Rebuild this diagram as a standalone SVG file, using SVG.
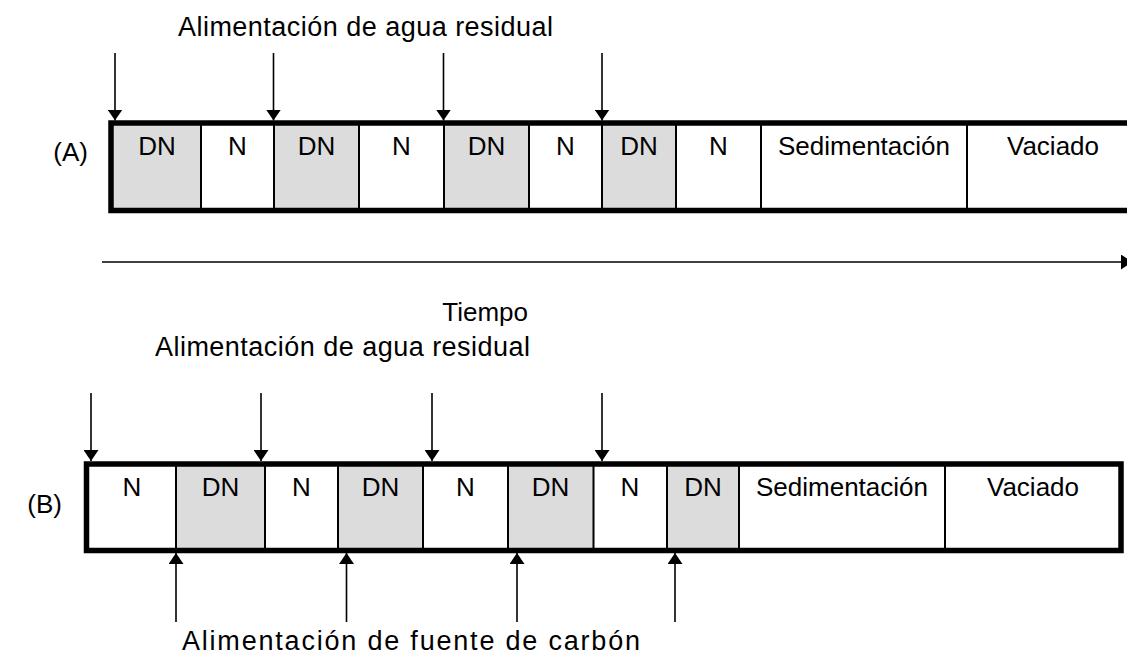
<svg xmlns="http://www.w3.org/2000/svg" width="1127" height="659" viewBox="0 0 1127 659">
<style>
text{font-family:"Liberation Sans",Arial,sans-serif;font-size:26px;fill:#000}
.c{text-anchor:middle}
.t{font-size:27px}
.frame{fill:none;stroke:#000;stroke-width:5.5}
.div{stroke:#000;stroke-width:2}
.g{fill:#dcdcdc}
.ln{stroke:#000;stroke-width:1.6;fill:none}
</style>
<defs>
<marker id="ah" markerWidth="11" markerHeight="15" refX="11" refY="7.5" orient="auto" markerUnits="userSpaceOnUse">
<path d="M0,0 L11,7.5 L0,15 Z" fill="#000"/>
</marker>
</defs>
<rect width="1127" height="659" fill="#fff"/>

<g id="labels">
<text class="t" x="178" y="36" textLength="375" lengthAdjust="spacing">Alimentación de agua residual</text>
<text x="88" y="161" text-anchor="end">(A)</text>
<text x="528" y="321" text-anchor="end">Tiempo</text>
<text class="t" x="155" y="356" textLength="375" lengthAdjust="spacing">Alimentación de agua residual</text>
<text x="62" y="513" text-anchor="end">(B)</text>
<text class="t" x="182" y="650" textLength="458" lengthAdjust="spacing">Alimentación de fuente de carbón</text>
</g>

<g id="boxA">
<rect class="g" x="113" y="125" width="88" height="84"/>
<rect class="g" x="274" y="125" width="85" height="84"/>
<rect class="g" x="444" y="125" width="85" height="84"/>
<rect class="g" x="602" y="125" width="74" height="84"/>
<g class="div">
<line x1="201" y1="123" x2="201" y2="210"/>
<line x1="274" y1="123" x2="274" y2="210"/>
<line x1="359" y1="123" x2="359" y2="210"/>
<line x1="444" y1="123" x2="444" y2="210"/>
<line x1="529" y1="123" x2="529" y2="210"/>
<line x1="602" y1="123" x2="602" y2="210"/>
<line x1="676" y1="123" x2="676" y2="210"/>
<line x1="761" y1="123" x2="761" y2="210"/>
<line x1="967" y1="123" x2="967" y2="210"/>
</g>
<path class="frame" d="M1140,123 H111 V210.5 H1140"/>
<text class="c" x="157" y="155">DN</text>
<text class="c" x="237.5" y="155">N</text>
<text class="c" x="316.5" y="155">DN</text>
<text class="c" x="401.5" y="155">N</text>
<text class="c" x="486.5" y="155">DN</text>
<text class="c" x="565.5" y="155">N</text>
<text class="c" x="639" y="155">DN</text>
<text class="c" x="718.5" y="155">N</text>
<text class="c" x="864" y="155">Sedimentación</text>
<text class="c" x="1053" y="155">Vaciado</text>
</g>

<g id="boxB">
<rect class="g" x="176" y="466" width="89" height="83"/>
<rect class="g" x="338" y="466" width="85" height="83"/>
<rect class="g" x="508" y="466" width="85.5" height="83"/>
<rect class="g" x="667" y="466" width="72" height="83"/>
<g class="div">
<line x1="176" y1="464" x2="176" y2="550"/>
<line x1="265" y1="464" x2="265" y2="550"/>
<line x1="338" y1="464" x2="338" y2="550"/>
<line x1="423" y1="464" x2="423" y2="550"/>
<line x1="508" y1="464" x2="508" y2="550"/>
<line x1="593.5" y1="464" x2="593.5" y2="550"/>
<line x1="667" y1="464" x2="667" y2="550"/>
<line x1="739" y1="464" x2="739" y2="550"/>
<line x1="945" y1="464" x2="945" y2="550"/>
</g>
<rect class="frame" x="86.5" y="464" width="1034.5" height="86.5"/>
<text class="c" x="132" y="495.5">N</text>
<text class="c" x="220.5" y="495.5">DN</text>
<text class="c" x="301.5" y="495.5">N</text>
<text class="c" x="380.5" y="495.5">DN</text>
<text class="c" x="465.5" y="495.5">N</text>
<text class="c" x="550.5" y="495.5">DN</text>
<text class="c" x="630" y="495.5">N</text>
<text class="c" x="703" y="495.5">DN</text>
<text class="c" x="842" y="495.5">Sedimentación</text>
<text class="c" x="1033" y="495.5">Vaciado</text>
</g>

<g id="connectors">
<line class="ln" x1="115" y1="53" x2="115" y2="120.5" marker-end="url(#ah)"/>
<line class="ln" x1="273.5" y1="53" x2="273.5" y2="120.5" marker-end="url(#ah)"/>
<line class="ln" x1="443.5" y1="53" x2="443.5" y2="120.5" marker-end="url(#ah)"/>
<line class="ln" x1="602" y1="53" x2="602" y2="120.5" marker-end="url(#ah)"/>
<line class="ln" x1="102" y1="262" x2="1132" y2="262" marker-end="url(#ah)"/>
<line class="ln" x1="91" y1="393" x2="91" y2="461" marker-end="url(#ah)"/>
<line class="ln" x1="261" y1="393" x2="261" y2="461" marker-end="url(#ah)"/>
<line class="ln" x1="432" y1="393" x2="432" y2="461" marker-end="url(#ah)"/>
<line class="ln" x1="602" y1="393" x2="602" y2="461" marker-end="url(#ah)"/>
<line class="ln" x1="176" y1="622" x2="176" y2="553" marker-end="url(#ah)"/>
<line class="ln" x1="346.5" y1="622" x2="346.5" y2="553" marker-end="url(#ah)"/>
<line class="ln" x1="517" y1="622" x2="517" y2="553" marker-end="url(#ah)"/>
<line class="ln" x1="675" y1="622" x2="675" y2="553" marker-end="url(#ah)"/>
</g>
</svg>
